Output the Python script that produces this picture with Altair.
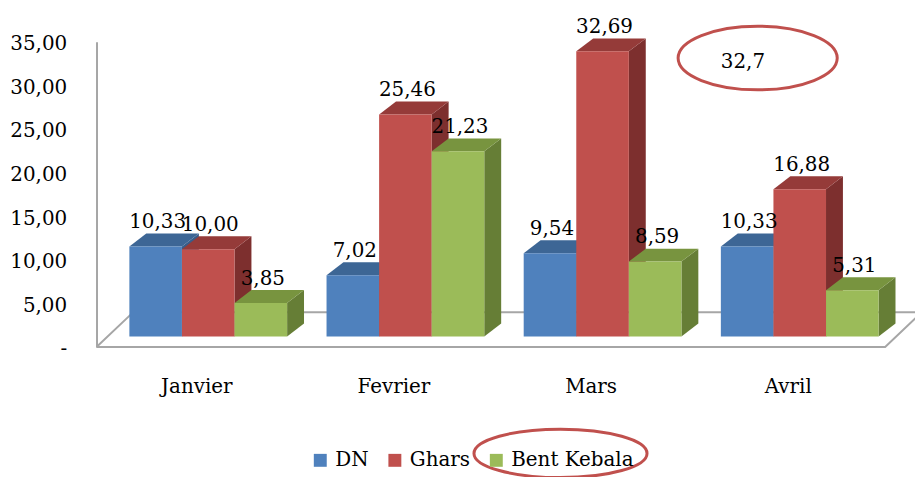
import altair as alt
import pandas as pd

# ---------------- data ----------------
MONTHS = ["Janvier", "Fevrier", "Mars", "Avril"]
SERIES = ["DN", "Ghars", "Bent Kebala"]
DN = [10.33, 7.02, 9.54, 10.33]
GHARS = [10.00, 25.46, 32.69, 16.88]
BENT_KEBALA = [3.85, 21.23, 8.59, 5.31]
Y_TICKS = [0, 5, 10, 15, 20, 25, 30, 35]
NOTE_TEXT = ["32,7"]

# ---------------- styles ----------------
FRONT = ["#4F81BD", "#C0504D", "#9BBB59"]
TOP = ["#3D6695", "#953B39", "#78943F"]
SIDE = ["#385D8A", "#7D2F2E", "#667E36"]
RING = "#C0504D"
FRAME = "#A6A6A6"
FONT = "DejaVu Serif"
FS = 20

# ---------------- layout ----------------
W, H = 793, 307
X_MIN, X_MAX = -0.625, 14.375
Y_MAX = 35
PERIOD = 3.75                      # bar widths per month group
PX_X = W / (X_MAX - X_MIN)
PX_Y = H / Y_MAX
DEPTH_X = 17 / PX_X                # 3D depth of bars
DEPTH_Y = 13 / PX_Y
LIFT = 10.5 / PX_Y                 # front faces sit slightly above the floor edge
FLOOR_DX = 37 / PX_X
FLOOR_DY = 35 / PX_Y

values = [DN, GHARS, BENT_KEBALA]
bars = pd.DataFrame(
    [
        {"month": m, "series": s, "value": values[j][i], "mi": i, "si": j, "bid": f"{m}-{s}"}
        for i, m in enumerate(MONTHS)
        for j, s in enumerate(SERIES)
    ]
)
edges = bars.merge(pd.DataFrame({"edge": [0, 1]}), how="cross")

floor = pd.DataFrame(
    {
        "fx": [X_MIN, X_MAX, X_MAX + FLOOR_DX, X_MIN + FLOOR_DX, X_MIN],
        "fy": [0, 0, FLOOR_DY, FLOOR_DY, 0],
        "k": [0, 1, 2, 3, 4],
    }
)

# annotation placements (data units)
note_df = pd.DataFrame({"nx": [11.67], "ny": [32.66], "t": NOTE_TEXT})
ring1_df = pd.DataFrame({"nx": [11.95], "ny": [33.12]})
ring2_df = pd.DataFrame({"nx": [8.2], "ny": [-12.2]})


def ellipse_path(r):
    k = 0.5523
    return (
        f"M1,0 C1,{k*r:.4f} {k:.4f},{r} 0,{r} C{-k:.4f},{r} -1,{k*r:.4f} -1,0 "
        f"C-1,{-k*r:.4f} {-k:.4f},{-r} 0,{-r} C{k:.4f},{-r} 1,{-k*r:.4f} 1,0 Z"
    )


XS = alt.Scale(domain=[X_MIN, X_MAX], nice=False, zero=False)
YS = alt.Scale(domain=[0, Y_MAX], nice=False, zero=False)

month_arr = "[" + ",".join(f"'{m}'" for m in MONTHS) + "]"
XA = alt.Axis(
    values=[i * PERIOD + 1.5 for i in range(len(MONTHS))],
    labelExpr=f"{month_arr}[round((datum.value - 1.5) / {PERIOD})]",
    labelOffset=-12,
    labelPadding=30,
    ticks=False,
    domain=False,
    grid=False,
    labelFont=FONT,
    labelFontSize=FS,
    labelColor="black",
    labelFlush=False,
    labelOverlap=False,
    title=None,
)
YA = alt.Axis(
    values=Y_TICKS,
    labelExpr="datum.value == 0 ? '-' : replace(format(datum.value, '.2f'), '.', ',')",
    ticks=False,
    labelPadding=30,
    labelOffset=2,
    domainColor=FRAME,
    domainWidth=2,
    grid=False,
    labelFont=FONT,
    labelFontSize=FS,
    labelColor="black",
    labelOverlap=False,
    title=None,
)

left_expr = f"datum.mi * {PERIOD} + datum.si"

floor_layer = alt.Chart(floor).mark_line(color=FRAME, strokeWidth=2).encode(
    x=alt.X("fx:Q", scale=XS, axis=XA),
    y=alt.Y("fy:Q", scale=YS, axis=YA),
    order="k:Q",
)

side_layer = (
    alt.Chart(edges)
    .transform_calculate(
        xs=f"{left_expr} + 1 + datum.edge * {DEPTH_X}",
        ys=f"datum.value + {LIFT} + datum.edge * {DEPTH_Y}",
        ys2=f"{LIFT} + datum.edge * {DEPTH_Y}",
    )
    .mark_area(orient="vertical")
    .encode(
        x=alt.X("xs:Q", scale=XS, axis=XA),
        y=alt.Y("ys:Q", scale=YS, axis=YA, stack=None),
        y2="ys2:Q",
        detail="bid:N",
        color=alt.Color("series:N", scale=alt.Scale(domain=SERIES, range=SIDE), legend=None),
    )
)

top_layer = (
    alt.Chart(edges)
    .transform_calculate(
        xl=f"{left_expr} + datum.edge * {DEPTH_X}",
        xr=f"{left_expr} + 1 + datum.edge * {DEPTH_X}",
        yt=f"datum.value + {LIFT} + datum.edge * {DEPTH_Y}",
    )
    .mark_area(orient="horizontal")
    .encode(
        y=alt.Y("yt:Q", scale=YS, axis=YA),
        x=alt.X("xl:Q", scale=XS, axis=XA, stack=None),
        x2="xr:Q",
        detail="bid:N",
        color=alt.Color("series:N", scale=alt.Scale(domain=SERIES, range=TOP), legend=None),
    )
)

front_layer = (
    alt.Chart(bars)
    .transform_calculate(
        xl=left_expr,
        xr=f"{left_expr} + 1",
        yv=f"datum.value + {LIFT}",
        yb=f"{LIFT}",
    )
    .mark_rect()
    .encode(
        x=alt.X("xl:Q", scale=XS, axis=XA),
        x2="xr:Q",
        y=alt.Y("yv:Q", scale=YS, axis=YA),
        y2="yb:Q",
        color=alt.Color(
            "series:N",
            sort=SERIES,
            scale=alt.Scale(domain=SERIES, range=FRONT),
            legend=alt.Legend(
                orient="none",
                legendX=215,
                legendY=411,
                direction="horizontal",
                title=None,
                symbolType="square",
                symbolSize=169,
                symbolStrokeWidth=0,
                symbolOpacity=1,
                labelFont=FONT,
                labelFontSize=FS,
                labelColor="black",
                labelOffset=5,
                columnPadding=16,
            ),
        ),
    )
)

label_layer = (
    alt.Chart(bars)
    .transform_calculate(
        xc=f"{left_expr} + 0.5",
        lab="replace(format(datum.value, '.2f'), '.', ',')",
    )
    .mark_text(font=FONT, fontSize=FS, color="black", align="center", baseline="alphabetic", dx=2, dy=-29)
    .encode(
        x=alt.X("xc:Q", scale=XS, axis=XA),
        y=alt.Y("value:Q", scale=YS, axis=YA),
        text="lab:N",
    )
)

note_layer = alt.Chart(note_df).mark_text(
    font=FONT, fontSize=FS, color="black", align="center", baseline="middle"
).encode(
    x=alt.X("nx:Q", scale=XS, axis=XA),
    y=alt.Y("ny:Q", scale=YS, axis=YA),
    text="t:N",
)

ring1 = alt.Chart(ring1_df).mark_point(
    shape=ellipse_path(0.4), size=160 ** 2, filled=False, stroke=RING, strokeWidth=3, opacity=1
).encode(
    x=alt.X("nx:Q", scale=XS, axis=XA),
    y=alt.Y("ny:Q", scale=YS, axis=YA),
)

ring2 = alt.Chart(ring2_df).mark_point(
    shape=ellipse_path(0.28), size=174 ** 2, filled=False, stroke=RING, strokeWidth=3, opacity=1
).encode(
    x=alt.X("nx:Q", scale=XS, axis=XA),
    y=alt.Y("ny:Q", scale=YS, axis=YA),
)

chart = (
    alt.layer(floor_layer, side_layer, top_layer, front_layer, label_layer, note_layer, ring1, ring2)
    .resolve_scale(color="independent")
    .properties(
        width=W,
        height=H,
        padding={"left": 89, "top": 32.5, "right": 30, "bottom": 140},
        autosize=alt.AutoSizeParams(type="none"),
        background="white",
    )
    .configure_view(stroke=None)
)

chart.save("out.html", embed_options={"renderer": "svg", "actions": False})
